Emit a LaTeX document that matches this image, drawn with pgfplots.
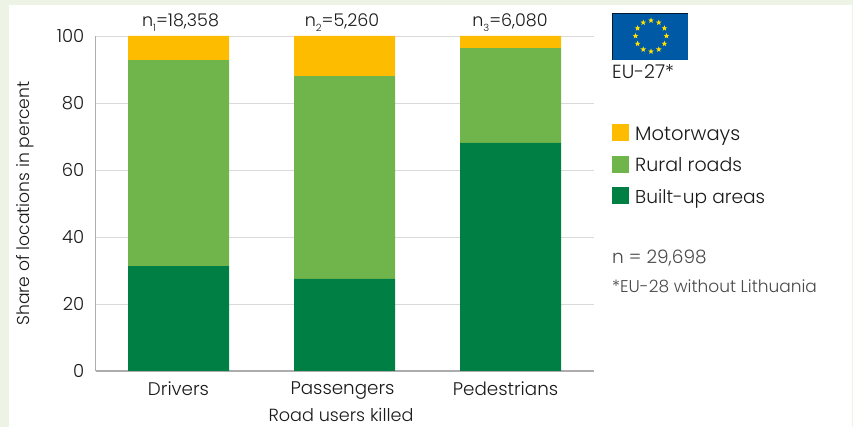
\documentclass[border=0pt]{standalone}
\usepackage{pgfplots}
\usepackage{fontspec}
\setmainfont{Poppins}[UprightFont=* Light]
\pgfplotsset{compat=1.18}
\usetikzlibrary{shapes.geometric,calc}
\definecolor{pagebg}{HTML}{EDF4E6}
\definecolor{built}{HTML}{007F45}
\definecolor{rural}{HTML}{6FB54C}
\definecolor{motor}{HTML}{FDBC00}
\definecolor{axisgrey}{HTML}{ADADAD}
\definecolor{gridgrey}{HTML}{D9D9D9}
\definecolor{flagblue}{HTML}{0059A5}
\definecolor{flagstar}{HTML}{FFE000}
\definecolor{txt}{HTML}{1A1A1A}
\definecolor{notetxt}{HTML}{4A4A4A}
\newcommand{\idx}[1]{\raisebox{-0.25em}{\fontsize{10}{11}\selectfont #1}}
\pgfplotstableread{
x built rural motor
0 31.3 61.5 7.2
1 27.5 60.5 12.0
2 68.1 28.3 3.6
}\shares
\begin{document}
\begin{tikzpicture}[x=1pt,y=1pt,font=\color{txt}]
% page background and white panel
\fill[pagebg] (0,0) rectangle (853,427);
\fill[white] (9,0) rectangle (852,422);
\begin{axis}[
  at={(95.5pt,56pt)},anchor=south west,
  scale only axis,width=498pt,height=335pt,
  xmin=-0.5,xmax=2.5,ymin=0,ymax=100,
  ybar stacked,bar width=101pt,
  axis x line*=bottom,axis y line*=left,
  axis line style={axisgrey,line width=1.6pt,-},
  ytick={0,20,40,60,80,100},
  ymajorgrids,
  grid style={gridgrey,line width=0.8pt},
  ytick style={gridgrey,line width=0.8pt},
  major tick length=5pt,
  xtick={0,1,2},
  xticklabels={Drivers,\hspace*{-4pt}Passengers,\hspace*{-10pt}Pedestrians},
  xtick style={draw=none},
  /pgf/number format/assume math mode=true,
  yticklabel style={font=\fontsize{18}{20}\selectfont\color{txt},inner sep=0pt,xshift=-11pt},
  xticklabel style={font=\fontsize{18.3}{20}\selectfont\color{txt},yshift=-7pt},
  ylabel={Share of locations in percent},
  every axis y label/.style={at={(axis description cs:0,0.5)},anchor=center,rotate=90,yshift=70.5pt},
  ylabel style={font=\fontsize{17.2}{19}\selectfont\color{txt}},
  xlabel={Road users killed},
  every axis x label/.style={at={(axis description cs:0.5,0)},anchor=center,xshift=-3.5pt,yshift=-44pt},
  xlabel style={font=\fontsize{17.6}{19}\selectfont\color{txt}},
  clip=false,
]
\addplot[fill=built,draw=none] table[x=x,y=built] {\shares};
\addplot[fill=rural,draw=none] table[x=x,y=rural] {\shares};
\addplot[fill=motor,draw=none] table[x=x,y=motor] {\shares};
\end{axis}
% sample sizes above the columns
\node[anchor=base,font=\fontsize{17.5}{19}\selectfont\color{txt}] at (180.5,400) {n\idx{1}=18,358};
\node[anchor=base,font=\fontsize{17.5}{19}\selectfont\color{txt}] at (342,400) {n\idx{2}=5,260};
\node[anchor=base,font=\fontsize{17.5}{19}\selectfont\color{txt}] at (510,400) {n\idx{3}=6,080};
% EU flag with its thin dark edge
\fill[flagblue] (612,367) rectangle (688,414);
\draw[line width=0.7pt,black!70!flagblue] (612.3,367) -- (612.3,413.6) -- (688,413.6);
\foreach \a in {0,30,...,330}
  \node[star,star points=5,star point ratio=2.4,fill=flagstar,inner sep=0pt,minimum size=6pt] at ($(651,391)+(\a:15.5)$) {};
\node[anchor=base west,font=\fontsize{19}{21}\selectfont\color{txt},inner sep=0pt] at (612,348) {EU-27*};
% legend
\fill[motor] (612,286) rectangle (629,303);
\fill[rural] (612,254) rectangle (629,271);
\fill[built] (612,223) rectangle (629,240);
\node[anchor=base west,font=\fontsize{19.5}{21}\selectfont\color{txt},inner sep=0pt] at (635,286) {Motorways};
\node[anchor=base west,font=\fontsize{19}{21}\selectfont\color{txt},inner sep=0pt] at (635,255) {Rural roads};
\node[anchor=base west,font=\fontsize{18.6}{21}\selectfont\color{txt},inner sep=0pt] at (635,223) {Built-up areas};
% notes
\node[anchor=base west,font=\fontsize{18.5}{20}\selectfont\color{notetxt},inner sep=0pt] at (612,163) {n = 29,698};
\node[anchor=base west,font=\fontsize{17}{19}\selectfont\color{notetxt},inner sep=0pt] at (612,134) {*EU-28 without Lithuania};
\end{tikzpicture}
\end{document}
